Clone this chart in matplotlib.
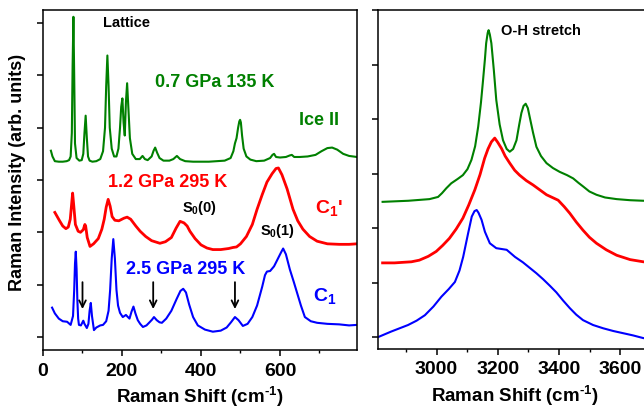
import matplotlib
matplotlib.use('Agg')
import matplotlib.pyplot as plt
from matplotlib.ticker import FixedLocator

plt.rcParams['font.family'] = ['Liberation Sans', 'DejaVu Sans']
plt.rcParams['font.weight'] = 'bold'
plt.rcParams['axes.labelweight'] = 'bold'
plt.rcParams['mathtext.fontset'] = 'custom'
plt.rcParams['mathtext.rm'] = 'Liberation Sans:bold'
plt.rcParams['mathtext.bf'] = 'Liberation Sans:bold'
plt.rcParams['mathtext.it'] = 'Liberation Sans:bold'
plt.rcParams['mathtext.default'] = 'bf'

#%% lattice region (left panel), offsets already included
green_lat_x = [20, 24, 30, 40, 50, 60, 66, 70, 73, 75, 77, 79, 81, 85, 92, 98, 102, 105, 108, 111,
               114, 118, 125, 135, 145, 152, 157, 160, 163, 166, 169, 174, 180, 186, 191, 195, 198,
               201, 204, 207, 210, 213, 216, 220, 226, 235, 245, 252, 258, 265, 275, 280, 284, 289,
               295, 305, 320, 330, 339, 347, 360, 380, 400, 420, 440, 460, 475, 482, 486, 490, 494,
               497, 499, 501, 504, 508, 515, 525, 540, 560, 575, 581, 585, 590, 600, 615, 625, 630,
               636, 650, 670, 690, 705, 720, 732, 745, 760, 775, 795]
green_lat_y = [3.56, 3.45, 3.36, 3.35, 3.35, 3.36, 3.38, 3.45, 3.9, 5.2, 6.12, 5.0, 3.7, 3.42, 3.37,
               3.38, 3.5, 3.9, 4.23, 3.8, 3.45, 3.37, 3.35, 3.36, 3.40, 3.55, 4.0, 4.8, 5.38, 4.8,
               4.0, 3.6, 3.45, 3.45, 3.6, 4.0, 4.4, 4.56, 4.1, 3.85, 4.5, 4.85, 4.4, 3.8, 3.5, 3.4,
               3.4, 3.46, 3.40, 3.38, 3.45, 3.56, 3.62, 3.52, 3.42, 3.37, 3.37, 3.40, 3.46, 3.40,
               3.36, 3.35, 3.35, 3.35, 3.36, 3.37, 3.42, 3.55, 3.7, 3.8, 4.0, 4.12, 4.15, 4.1, 3.85,
               3.6, 3.45, 3.39, 3.36, 3.37, 3.42, 3.48, 3.50, 3.44, 3.43, 3.44, 3.47, 3.48, 3.44,
               3.44, 3.45, 3.48, 3.55, 3.61, 3.62, 3.58, 3.50, 3.46, 3.44]

red_lat_x = [30, 36, 42, 50, 58, 64, 69, 72, 75, 78, 82, 89, 95, 102, 106, 108, 112, 119, 128, 140,
             149, 155, 160, 165, 170, 175, 182, 192, 205, 213, 222, 235, 246, 260, 275, 296, 310,
             325, 337, 347, 357, 365, 372, 385, 400, 415, 430, 450, 470, 481, 490, 500, 515, 530,
             542, 555, 567, 580, 590, 596, 605, 618, 633, 645, 658, 675, 694, 720, 750, 775, 795]
red_lat_y = [2.38, 2.30, 2.22, 2.12, 2.07, 2.10, 2.25, 2.5, 2.75, 2.5, 2.15, 2.02, 2.0, 2.05, 2.15,
             2.12, 1.9, 1.73, 1.78, 1.88, 2.06, 2.25, 2.48, 2.63, 2.5, 2.3, 2.23, 2.22, 2.27, 2.29,
             2.25, 2.12, 2.02, 1.92, 1.84, 1.79, 1.82, 1.90, 2.08, 2.21, 2.18, 2.12, 2.02, 1.88,
             1.76, 1.70, 1.67, 1.67, 1.69, 1.71, 1.72, 1.78, 1.92, 2.15, 2.44, 2.72, 2.96, 3.12,
             3.22, 3.23, 3.10, 2.83, 2.44, 2.22, 2.06, 1.92, 1.83, 1.78, 1.77, 1.77, 1.78]

blue_lat_x = [23, 30, 40, 50, 61, 70, 76, 79, 81, 83, 85, 87, 89, 91, 96, 100, 102, 105, 111, 115,
              118, 121, 124, 129, 135, 145, 152, 160, 166, 170, 174, 178, 182, 186, 190, 195, 202,
              210, 215, 219, 224, 229, 234, 240, 246, 253, 262, 271, 276, 281, 288, 295, 301, 312,
              325, 338, 348, 355, 362, 370, 380, 392, 410, 430, 450, 465, 476, 486, 495, 506, 518,
              530, 542, 555, 562, 567, 575, 585, 595, 603, 608, 615, 625, 635, 643, 653, 663, 678,
              694, 720, 750, 775, 795]
blue_lat_y = [0.56, 0.45, 0.35, 0.30, 0.29, 0.23, 0.4, 0.9, 1.4, 1.63, 1.3, 0.7, 0.35, 0.23, 0.22,
              0.28, 0.31, 0.25, 0.17, 0.25, 0.5, 0.65, 0.4, 0.13, 0.18, 0.22, 0.23, 0.3, 0.5, 0.9,
              1.5, 1.87, 1.5, 0.9, 0.6, 0.46, 0.38, 0.42, 0.38, 0.35, 0.48, 0.58, 0.45, 0.32, 0.25,
              0.19, 0.22, 0.29, 0.33, 0.38, 0.32, 0.28, 0.27, 0.35, 0.50, 0.72, 0.88, 0.92, 0.85,
              0.62, 0.38, 0.22, 0.14, 0.10, 0.12, 0.18, 0.28, 0.38, 0.32, 0.21, 0.25, 0.38, 0.6,
              0.96, 1.18, 1.25, 1.26, 1.35, 1.50, 1.62, 1.69, 1.58, 1.29, 1.05, 0.85, 0.6, 0.38,
              0.3, 0.27, 0.25, 0.24, 0.22, 0.23]

arrow_x = [100, 279, 486]

#%% O-H stretch region (right panel)
green_oh_x = [2824, 2908, 2977, 3005, 3018, 3032, 3048, 3069, 3086, 3101, 3114, 3126, 3136, 3145,
              3151, 3158, 3162, 3167, 3170, 3174, 3179, 3187, 3195, 3206, 3217, 3229, 3239, 3250,
              3261, 3270, 3277, 3284, 3291, 3298, 3304, 3315, 3326, 3341, 3359, 3380, 3402, 3426,
              3446, 3463, 3479, 3499, 3522, 3550, 3588, 3632, 3675, 3700]
green_oh_y = [2.48, 2.50, 2.53, 2.57, 2.64, 2.73, 2.82, 2.90, 2.97, 3.08, 3.25, 3.5, 3.86, 4.3,
              4.66, 5.1, 5.39, 5.58, 5.63, 5.55, 5.39, 4.9, 4.35, 3.9, 3.61, 3.45, 3.40, 3.45, 3.61,
              3.9, 4.11, 4.24, 4.28, 4.2, 4.04, 3.75, 3.49, 3.32, 3.19, 3.10, 3.03, 2.97, 2.91,
              2.83, 2.76, 2.67, 2.61, 2.56, 2.53, 2.51, 2.50, 2.50]

red_oh_x = [2824, 2863, 2890, 2918, 2944, 2973, 2999, 3020, 3042, 3064, 3086, 3105, 3125, 3142,
            3157, 3168, 3179, 3190, 3200, 3212, 3224, 3239, 3255, 3271, 3293, 3315, 3337, 3359,
            3378, 3397, 3417, 3435, 3456, 3478, 3499, 3522, 3554, 3588, 3632, 3675, 3700]
red_oh_y = [1.36, 1.36, 1.37, 1.38, 1.41, 1.48, 1.57, 1.68, 1.81, 1.98, 2.18, 2.42, 2.70, 2.98,
            3.28, 3.45, 3.58, 3.65, 3.57, 3.46, 3.32, 3.19, 3.06, 2.97, 2.87, 2.79, 2.70, 2.61,
            2.56, 2.51, 2.39, 2.27, 2.11, 1.96, 1.83, 1.72, 1.60, 1.50, 1.42, 1.38, 1.37]

blue_oh_x = [2810, 2852, 2907, 2935, 2962, 2990, 3016, 3040, 3060, 3075, 3087, 3103, 3115, 3124,
             3131, 3137, 3147, 3158, 3174, 3195, 3229, 3256, 3282, 3304, 3326, 3348, 3370, 3391,
             3413, 3435, 3456, 3478, 3511, 3544, 3577, 3609, 3641, 3675, 3700]
blue_oh_y = [0.0, 0.10, 0.22, 0.30, 0.40, 0.56, 0.74, 0.88, 1.01, 1.22, 1.47, 1.90, 2.21, 2.31,
             2.33, 2.28, 2.15, 1.93, 1.72, 1.63, 1.60, 1.47, 1.37, 1.27, 1.17, 1.06, 0.94, 0.82,
             0.67, 0.53, 0.41, 0.31, 0.22, 0.16, 0.11, 0.07, 0.03, -0.02, -0.03]

#%%
green = '#008000'
red = '#FF0000'
blue = '#0000FF'

fig = plt.figure(figsize=(6.44, 4.09), dpi=100)
ax1 = fig.add_axes([43/644, 59/409, 314/644, 340/409])
ax2 = fig.add_axes([378/644, 60/409, 273/644, 339/409])

ax1.plot(green_lat_x, green_lat_y, color=green, lw=1.5)
ax1.plot(red_lat_x, red_lat_y, color=red, lw=2.0)
ax1.plot(blue_lat_x, blue_lat_y, color=blue, lw=1.5)
for xa in arrow_x:
    ax1.annotate('', xy=(xa, 0.48), xytext=(xa, 1.1),
                 arrowprops=dict(arrowstyle='->', color='black', lw=1.3, mutation_scale=12))

ax1.text(212, 6.0, 'Lattice', ha='center', va='center', fontsize=10.5)
ax1.text(434, 4.87, '0.7 GPa 135 K', color=green, ha='center', va='center', fontsize=13)
ax1.text(699, 4.13, 'Ice II', color=green, ha='center', va='center', fontsize=13)
ax1.text(316, 2.96, '1.2 GPa 295 K', color=red, ha='center', va='center', fontsize=13)
ax1.text(724, 2.46, "C$_1$'", color=red, ha='center', va='center', fontsize=14)
ax1.text(397, 2.46, 'S$_0$(0)', ha='center', va='center', fontsize=10.5)
ax1.text(594, 2.02, 'S$_0$(1)', ha='center', va='center', fontsize=10.5)
ax1.text(360, 1.29, '2.5 GPa 295 K', color=blue, ha='center', va='center', fontsize=13)
ax1.text(714, 0.79, 'C$_1$', color=blue, ha='center', va='center', fontsize=14)

xlab = r'Raman Shift (cm$^{\text{-}1}$)'

ax1.set_xlim(0, 795)
ax1.set_ylim(-0.25, 6.25)
ax1.set_xticks([0, 200, 400, 600], ['0', '200', '400', '600'], fontweight='bold')
ax1.xaxis.set_minor_locator(FixedLocator([100, 300, 500, 700]))
ax1.set_yticks(range(7), [''] * 7)
ax1.set_xlabel(xlab, fontsize=13.5, fontweight='bold', labelpad=4)
fig.text(18/644, 1 - 172/409, 'Raman Intensity (arb. units)', rotation=90,
         ha='center', va='center', fontsize=13, fontweight='bold')

ax2.plot(green_oh_x, green_oh_y, color=green, lw=1.5)
ax2.plot(red_oh_x, red_oh_y, color=red, lw=2.0)
ax2.plot(blue_oh_x, blue_oh_y, color=blue, lw=1.5)
ax2.text(3341, 5.61, 'O-H stretch', ha='center', va='center', fontsize=10.5)
ax2.set_xlim(2809, 3700)
ax2.set_ylim(-0.22, 6.0)
ax2.set_xticks([3000, 3200, 3400, 3600], ['3000', '3200', '3400', '3600'], fontweight='bold')
ax2.xaxis.set_minor_locator(FixedLocator([2900, 3100, 3300, 3500]))
ax2.set_yticks(range(7), [''] * 7)
ax2.set_xlabel(xlab, fontsize=13.5, fontweight='bold', labelpad=4)

for ax in (ax1, ax2):
    for s in ax.spines.values():
        s.set_linewidth(1.1)
    ax.tick_params(which='major', direction='out', length=4, width=1.1, labelsize=14, pad=5)
    ax.tick_params(which='minor', direction='out', length=2.5, width=1.0)

plt.savefig('out.png', dpi=100)
